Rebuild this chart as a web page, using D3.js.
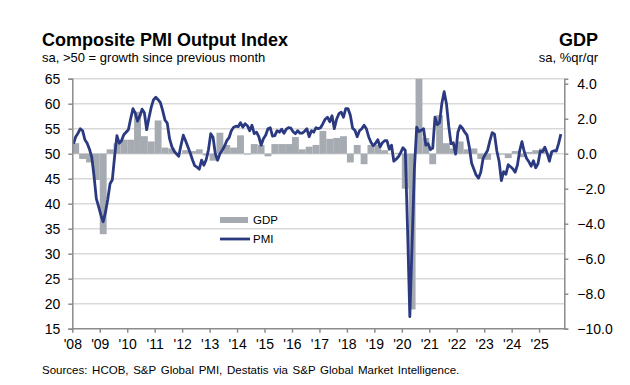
<!DOCTYPE html>
<html>
<head>
<meta charset="utf-8">
<script src="https://cdn.jsdelivr.net/npm/d3@7"></script>
<style>
  body { margin: 0; background: #fff; }
  svg { font-family: "Liberation Sans", Arial, sans-serif; }
</style>
</head>
<body>
<svg id="chart" width="630" height="385"></svg>
<script>
// monthly composite PMI, Jan 2008 .. Oct 2025
const pmi = [
  52.0, 53.4, 54.1, 55.0, 54.6, 52.8, 52.1, 50.9, 49.3, 45.5, 41.0, 39.4, // 2008
  37.7, 36.4, 38.3, 40.9, 44.0, 44.8, 49.5, 53.6, 52.1, 52.6, 53.8, 54.3, // 2009
  54.8, 57.0, 59.0, 58.1, 56.5, 57.5, 58.9, 58.2, 54.8, 57.2, 59.3, 60.8, // 2010
  61.3, 60.8, 60.2, 58.6, 56.7, 56.1, 53.0, 51.4, 50.5, 50.0, 49.5, 51.7, // 2011
  53.7, 52.6, 51.4, 50.2, 48.8, 47.6, 47.3, 46.9, 48.7, 47.7, 48.8, 50.8, // 2012
  54.0, 53.3, 50.0, 48.7, 50.0, 50.7, 51.5, 52.6, 53.2, 54.6, 55.3, 55.5, // 2013
  55.4, 56.2, 55.3, 56.0, 55.6, 54.6, 55.7, 54.0, 54.3, 53.4, 51.7, 53.0, // 2014
  53.7, 55.0, 55.2, 53.5, 53.6, 54.6, 54.3, 54.9, 54.1, 54.9, 55.2, 55.1, // 2015
  54.4, 54.0, 54.6, 54.1, 54.1, 54.5, 55.0, 53.4, 54.6, 54.3, 55.2, 55.0, // 2016
  55.2, 56.0, 56.9, 57.3, 56.4, 57.6, 55.0, 56.9, 58.0, 58.3, 57.3, 59.0, // 2017
  59.0, 57.7, 55.1, 54.7, 53.4, 54.6, 55.0, 55.7, 55.0, 53.4, 52.3, 51.6, // 2018
  52.1, 52.8, 51.4, 52.2, 52.6, 52.6, 50.9, 51.7, 48.5, 48.9, 49.4, 50.2, // 2019
  51.2, 50.7, 35.0, 17.4, 32.3, 47.0, 55.3, 54.4, 54.7, 55.0, 51.7, 52.0, // 2020
  50.8, 51.1, 57.3, 55.8, 56.2, 60.1, 62.4, 60.0, 55.5, 52.0, 52.2, 49.9, // 2021
  54.3, 55.6, 55.1, 54.3, 53.7, 51.3, 48.1, 46.9, 45.7, 45.1, 46.3, 49.0, // 2022
  49.9, 50.7, 52.6, 54.2, 53.9, 50.6, 48.5, 44.6, 46.4, 45.9, 47.8, 47.4, // 2023
  47.0, 46.3, 47.7, 50.6, 52.4, 50.4, 49.1, 48.4, 47.5, 48.6, 47.2, 48.0, // 2024
  50.5, 50.4, 51.3, 50.1, 48.5, 50.4, 50.6, 50.5, 52.0, 53.9              // 2025
];

// quarterly GDP %q/q, Q1 2008 .. Q3 2025
const gdp = [
  0.6, -0.3, -0.5, -1.5,    // 2008
  -4.6, 0.25, 0.6, 0.8,     // 2009
  0.8, 2.4, 1.0, 0.7,       // 2010
  1.9, 0.35, 0.3, 0.0,      // 2011
  0.2, 0.15, 0.25, -0.1,    // 2012
  -0.4, 1.2, 0.5, 0.35,     // 2013
  1.05, -0.05, 0.55, 0.5,   // 2014
  -0.15, 0.55, 0.55, 0.55,  // 2015
  0.95, 0.25, 0.4, 0.5,     // 2016
  1.3, 0.85, 0.9, 1.0,      // 2017
  -0.5, 0.5, -0.6, 0.5,     // 2018
  0.5, 0.2, 0.0, 0.05,      // 2019
  -2.0, -8.9, 8.9, 0.9,     // 2020
  -0.6, 2.2, 0.6, 0.3,      // 2021
  0.7, 0.25, 0.3, -0.3,     // 2022
  -0.35, 0.0, -0.05, -0.25, // 2023
  0.15, -0.2, 0.1, 0.2,     // 2024
  0.3, -0.1, 0.0            // 2025
];

const yearLabels = ["'08", "'09", "'10", "'11", "'12", "'13", "'14", "'15", "'16",
  "'17", "'18", "'19", "'20", "'21", "'22", "'23", "'24", "'25"];
const leftTicks = [15, 20, 25, 30, 35, 40, 45, 50, 55, 60, 65];
const rightTicks = [-10, -8, -6, -4, -2, 0, 2, 4];

const svg = d3.select("#chart");
const plotLeft = 72.3, plotRight = 564.3, plotTop = 78.7, plotBottom = 328.7;
const lineColor = "#2b3a80", barColor = "#a5abb1", axisColor = "#8c8c8c";

const x = d3.scaleLinear().domain([0, 215]).range([plotLeft, plotRight]);
const yL = d3.scaleLinear().domain([15, 65]).range([plotBottom, plotTop]);
const yR = d3.scaleLinear().domain([-10, 30 / 7]).range([plotBottom, plotTop]);

// gridlines
svg.append("g")
  .selectAll("line")
  .data(leftTicks.slice(1))
  .enter()
  .append("line")
  .attr("x1", plotLeft).attr("x2", plotRight)
  .attr("y1", d => yL(d)).attr("y2", d => yL(d))
  .attr("stroke", "#d9d9d9")
  .attr("stroke-width", 1.5);

svg.append("clipPath").attr("id", "plot")
  .append("rect")
  .attr("x", plotLeft).attr("y", plotTop)
  .attr("width", plotRight - plotLeft).attr("height", plotBottom - plotTop);

// GDP bars, one quarter wide
svg.append("g")
  .attr("clip-path", "url(#plot)")
  .selectAll("rect")
  .data(gdp)
  .enter()
  .append("rect")
  .attr("x", (d, i) => x(i * 3))
  .attr("width", x(3) - x(0))
  .attr("y", d => yR(Math.max(d, 0)))
  .attr("height", d => Math.abs(yR(d) - yR(0)))
  .attr("fill", barColor);

// PMI line, points at month centres
const line = d3.line()
  .x((d, i) => x(i + 0.5))
  .y(d => yL(d));

svg.append("path")
  .datum(pmi)
  .attr("d", line)
  .attr("fill", "none")
  .attr("stroke", lineColor)
  .attr("stroke-width", 2.8)
  .attr("stroke-linejoin", "round");

// axes
const axL = svg.append("g")
  .attr("transform", "translate(" + plotLeft + ",0)")
  .call(d3.axisLeft(yL).tickValues(leftTicks).tickSize(4).tickPadding(8));

const axR = svg.append("g")
  .attr("transform", "translate(" + plotRight + ",0)")
  .call(d3.axisRight(yR).tickValues(rightTicks).tickSize(4).tickPadding(9)
    .tickFormat(d3.format(".1f")));

const axB = svg.append("g")
  .attr("transform", "translate(0," + plotBottom + ")")
  .call(d3.axisBottom(x).tickValues(d3.range(0, 216, 12)).tickSize(4).tickPadding(6)
    .tickFormat((d, i) => yearLabels[i] || ""));

[axL, axR, axB].forEach(ax => {
  ax.select(".domain").attr("stroke", axisColor).attr("stroke-width", 1.5);
  ax.selectAll(".tick line").attr("stroke", axisColor).attr("stroke-width", 1.5);
  ax.selectAll("text")
    .attr("fill", "#000")
    .style("font-size", "14px")
    .style("font-family", "Liberation Sans, Arial, sans-serif");
});
axB.select(".domain").attr("d", "M" + plotLeft + ",0H" + plotRight);

// titles
svg.append("text").attr("x", 42).attr("y", 46)
  .style("font-size", "18px").style("font-weight", "bold")
  .text("Composite PMI Output Index");
svg.append("text").attr("x", 42).attr("y", 62)
  .style("font-size", "13px")
  .text("sa, >50 = growth since previous month");
svg.append("text").attr("x", 598).attr("y", 46).attr("text-anchor", "end")
  .style("font-size", "18px").style("font-weight", "bold")
  .text("GDP");
svg.append("text").attr("x", 598).attr("y", 62).attr("text-anchor", "end")
  .style("font-size", "13px")
  .text("sa, %qr/qr");

// legend
svg.append("rect").attr("x", 220).attr("y", 217).attr("width", 28).attr("height", 6)
  .attr("fill", barColor);
svg.append("text").attr("x", 253).attr("y", 224).style("font-size", "11.5px").text("GDP");
svg.append("line").attr("x1", 220).attr("x2", 250).attr("y1", 239).attr("y2", 239)
  .attr("stroke", lineColor).attr("stroke-width", 2.8);
svg.append("text").attr("x", 253).attr("y", 243).style("font-size", "11.5px").text("PMI");

svg.append("text").attr("x", 42).attr("y", 374)
  .style("font-size", "11.5px").style("word-spacing", "1.5px")
  .text("Sources: HCOB, S&P Global PMI, Destatis via S&P Global Market Intelligence.");
</script>
</body>
</html>
